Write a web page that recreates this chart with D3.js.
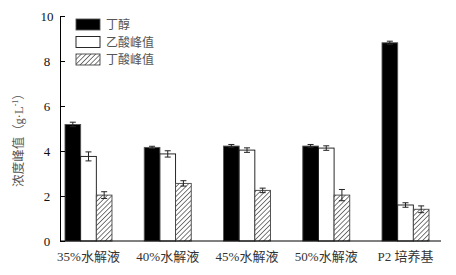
<!DOCTYPE html>
<html>
<head>
<meta charset="utf-8">
<script src="https://cdn.jsdelivr.net/npm/d3@7"></script>
<style>
  body { margin: 0; background: #fff; }
  .tick-label { font-family: "Liberation Serif", "Noto Sans CJK SC", serif; font-size: 13px; fill: #111; }
  .cat-label { font-family: "Liberation Serif", "Noto Sans CJK SC", serif; font-size: 13px; fill: #333; }
  .legend-label { font-family: "Noto Sans CJK SC", sans-serif; font-size: 12px; fill: #555; }
  .axis-title { font-family: "Noto Sans CJK SC", sans-serif; font-size: 12.5px; fill: #555; }
</style>
</head>
<body>
<div id="chart-area"></div>
<script>
// data
const categories = ["35%水解液", "40%水解液", "45%水解液", "50%水解液", "P2 培养基"]
const seriesNames = ["丁醇", "乙酸峰值", "丁酸峰值"]
const butanol = [5.18, 4.16, 4.22, 4.22, 8.81]
const butanolErr = [0.10, 0.05, 0.07, 0.07, 0.07]
const aceticPeak = [3.76, 3.87, 4.04, 4.13, 1.60]
const aceticErr = [0.20, 0.14, 0.10, 0.10, 0.10]
const butyricPeak = [2.04, 2.56, 2.25, 2.04, 1.41]
const butyricErr = [0.15, 0.12, 0.10, 0.25, 0.15]
const yTicks = [0, 2, 4, 6, 8, 10]

function drawChart() {
  const dimensions = {
    width: 456,
    height: 275,
    margin: { top: 16, right: 15, bottom: 34, left: 60 },
  }
  dimensions.boundedWidth = dimensions.width - dimensions.margin.left - dimensions.margin.right
  dimensions.boundedHeight = dimensions.height - dimensions.margin.top - dimensions.margin.bottom

  const wrapper = d3.select("#chart-area")
    .append("svg")
      .attr("width", dimensions.width)
      .attr("height", dimensions.height)

  // hatch fill for 丁酸
  const defs = wrapper.append("defs")
  const pattern = defs.append("pattern")
      .attr("id", "hatch")
      .attr("patternUnits", "userSpaceOnUse")
      .attr("width", 3.4)
      .attr("height", 3.4)
      .attr("patternTransform", "rotate(45)")
  pattern.append("rect").attr("width", 3.4).attr("height", 3.4).attr("fill", "#fff")
  pattern.append("line")
      .attr("x1", 0).attr("y1", 0).attr("x2", 0).attr("y2", 3.4)
      .attr("stroke", "#333").attr("stroke-width", 1.3)

  const bounds = wrapper.append("g")
      .attr("transform", `translate(${dimensions.margin.left},${dimensions.margin.top})`)

  // scales
  const yScale = d3.scaleLinear()
    .domain([0, 10])
    .range([dimensions.boundedHeight, 0])

  const x0 = d3.scaleBand()
    .domain(categories)
    .range([0, 374])
    .paddingInner(0.407)
    .paddingOuter(0.063)

  const x1 = d3.scaleBand()
    .domain(seriesNames)
    .range([0, x0.bandwidth()])

  const fills = ["#000", "#fff", "url(#hatch)"]
  const strokes = ["#555", "#111", "#444"]

  const rows = categories.map((c, i) => ({
    cat: c,
    vals: [
      { s: seriesNames[0], v: butanol[i], e: butanolErr[i] },
      { s: seriesNames[1], v: aceticPeak[i], e: aceticErr[i] },
      { s: seriesNames[2], v: butyricPeak[i], e: butyricErr[i] },
    ],
  }))

  // bars
  const groups = bounds.selectAll(".group")
    .data(rows)
    .join("g")
      .attr("transform", d => `translate(${x0(d.cat)},0)`)

  groups.selectAll("rect")
    .data(d => d.vals)
    .join("rect")
      .attr("x", d => x1(d.s))
      .attr("y", d => yScale(d.v))
      .attr("width", x1.bandwidth())
      .attr("height", d => yScale(0) - yScale(d.v))
      .attr("fill", (d, i) => fills[i])
      .attr("stroke", (d, i) => strokes[i])
      .attr("stroke-width", 0.9)

  // error bars
  const errs = groups.selectAll(".err")
    .data(d => d.vals)
    .join("g")
      .attr("class", "err")
      .attr("transform", d => `translate(${x1(d.s) + x1.bandwidth() / 2},0)`)
      .attr("stroke", "#222")
      .attr("stroke-width", 1)
  errs.append("line")
      .attr("y1", d => yScale(d.v - d.e))
      .attr("y2", d => yScale(d.v + d.e))
  errs.append("line")
      .attr("x1", -3).attr("x2", 3)
      .attr("y1", d => yScale(d.v + d.e))
      .attr("y2", d => yScale(d.v + d.e))
  errs.append("line")
      .attr("x1", -3).attr("x2", 3)
      .attr("y1", d => yScale(d.v - d.e))
      .attr("y2", d => yScale(d.v - d.e))

  // axes
  const yAxis = d3.axisLeft(yScale)
    .tickValues(yTicks)
    .tickSize(-5)
    .tickSizeOuter(0)
    .tickPadding(0)
  const yAxisGroup = bounds.append("g").call(yAxis)
  yAxisGroup.select(".domain").attr("stroke", "#000")
  yAxisGroup.selectAll(".tick line").attr("stroke", "#000")
  yAxisGroup.selectAll(".tick text")
      .attr("class", "tick-label")
      .attr("x", -13)
      .attr("text-anchor", "middle")
      .attr("dy", "0.35em")

  bounds.append("line")
      .attr("x1", 0)
      .attr("x2", 381)
      .attr("y1", yScale(0))
      .attr("y2", yScale(0))
      .attr("stroke", "#000")

  bounds.selectAll(".cat-label")
    .data(categories)
    .join("text")
      .attr("class", "cat-label")
      .attr("x", d => x0(d) + x0.bandwidth() / 2)
      .attr("y", yScale(0) + 20)
      .attr("text-anchor", "middle")
      .text(d => d)

  // y label
  const yLabel = wrapper.append("text")
      .attr("class", "axis-title")
      .attr("transform", `translate(23,137) rotate(-90)`)
      .attr("text-anchor", "middle")
  yLabel.append("tspan").text("浓度峰值（")
  yLabel.append("tspan").attr("font-family", "Liberation Serif").text("g·L")
  yLabel.append("tspan").attr("font-family", "Liberation Serif").attr("font-size", 8).attr("dy", -5).text("-1")
  yLabel.append("tspan").attr("dy", 5).text("）")

  // legend
  const legend = bounds.selectAll(".legend")
    .data(seriesNames)
    .join("g")
      .attr("transform", (d, i) => `translate(16,${3 + i * 17.5})`)
  legend.append("rect")
      .attr("width", 24)
      .attr("height", 11)
      .attr("fill", (d, i) => fills[i])
      .attr("stroke", (d, i) => strokes[i])
      .attr("stroke-width", 0.9)
  legend.append("text")
      .attr("class", "legend-label")
      .attr("x", 30)
      .attr("y", 6)
      .attr("dy", "0.35em")
      .text(d => d)
}
drawChart()
</script>
</body>
</html>
